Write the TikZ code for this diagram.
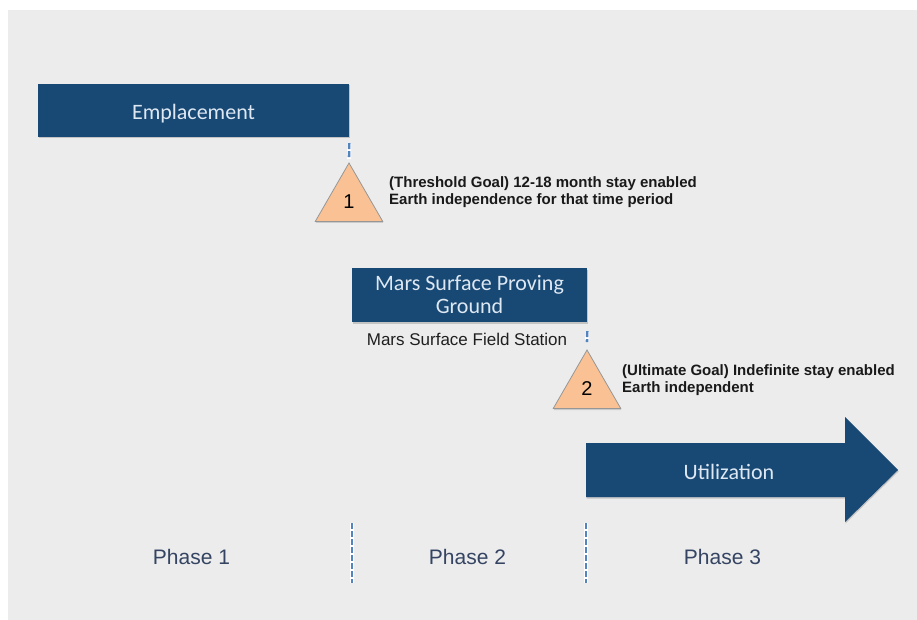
\documentclass[tikz,border=0pt]{standalone}
\usepackage{fontspec}
\setmainfont{Liberation Sans}
\newfontfamily\cali{Carlito}
\usetikzlibrary{shapes.geometric,shadows}
\definecolor{bgray}{RGB}{236,236,236}
\definecolor{navy}{RGB}{24,72,116}
\definecolor{boxtext}{RGB}{222,232,243}
\definecolor{peach}{RGB}{250,194,148}
\definecolor{tribord}{RGB}{150,150,150}
\definecolor{dashblue}{RGB}{84,132,190}
\definecolor{phasetext}{RGB}{52,68,98}
\begin{document}
\begin{tikzpicture}[x=1pt,y=-1pt,
  bluebox/.style={fill=navy, draw=none, text=boxtext, align=center, inner sep=0pt,
    font=\cali\fontsize{22}{23}\selectfont,
    drop shadow={shadow xshift=0.5pt, shadow yshift=-1.5pt, opacity=0.3, fill=black!60}},
  goaltri/.style={regular polygon, regular polygon sides=3, minimum size=78pt,
    fill=peach, draw=tribord, line width=0.8pt, inner sep=0pt,
    font=\fontsize{20}{22}\selectfont,
    drop shadow={shadow xshift=0.5pt, shadow yshift=-1.5pt, opacity=0.25, fill=black!60}},
  goaltext/.style={anchor=west, align=left, inner sep=0pt, text=black!90,
    font=\bfseries\fontsize{15}{17}\selectfont},
  phase/.style={font=\fontsize{21}{25}\selectfont, text=phasetext},
  tickglow/.style={white, line width=4pt},
  tickline/.style={dashblue, line width=2.6pt, dash pattern=on 6pt off 2pt},
]
\useasboundingbox (0,0) rectangle (917,620);
\fill[white] (0,0) rectangle (917,620);
\fill[bgray] (8,10) rectangle (917,620);

% boxes
\node[bluebox, minimum width=311pt, minimum height=53pt] (emp) at (193.5,110.5) {\raisebox{-3pt}[\height][\depth]{Emplacement}};
\node[bluebox, minimum width=235pt, minimum height=54pt] (mars) at (469.5,295) {Mars Surface Proving\\Ground};
\node[font=\fontsize{17}{20}\selectfont, text=black!88, inner sep=0pt] (field) at (467,339) {Mars Surface Field Station};

% goal triangles
\node[goaltri] (tri1) at (349,202) {1};
\node[goaltri] (tri2) at (587,389) {2};
\node[goaltext] (g1) at (389,192.5) {(Threshold Goal) 12-18 month stay enabled\\Earth independence for that time period};
\node[goaltext] (g2) at (622,380) {(Ultimate Goal) Indefinite stay enabled\\Earth independent};

% ticks
\draw[tickglow] ([yshift=-6pt]emp.south east) -- ([yshift=3pt]tri1.north);
\draw[tickline] ([yshift=-6pt]emp.south east) -- ([yshift=3pt]tri1.north);
\draw[tickglow] ([yshift=-9pt]mars.south east) -- ([yshift=7pt]tri2.north);
\draw[tickline] ([yshift=-9pt]mars.south east) -- ([yshift=7pt]tri2.north);

% utilization arrow
\fill[navy, drop shadow={shadow xshift=0.5pt, shadow yshift=-1.5pt, opacity=0.3, fill=black!60}]
  (586,443) -- (845,443) -- (845,417) -- (898,470) -- (845,522) -- (845,497) -- (586,497) -- cycle;
\node[text=boxtext, font=\cali\fontsize{22}{23}\selectfont, inner sep=0pt] (util) at (729,472) {Utilization};

% phase dividers
\coordinate (d1t) at (352,523);
\coordinate (d1b) at (352,583);
\coordinate (d2t) at (586,523);
\coordinate (d2b) at (586,583);
\draw[tickglow] (d1t) -- (d1b);
\draw[tickline] (d1t) -- (d1b);
\draw[tickglow] (d2t) -- (d2b);
\draw[tickline] (d2t) -- (d2b);

% phase labels
\node[phase] (p1) at (191.5,557) {Phase 1};
\node[phase] (p2) at (467.5,557) {Phase 2};
\node[phase] (p3) at (722.5,557) {Phase 3};
\end{tikzpicture}
\end{document}
